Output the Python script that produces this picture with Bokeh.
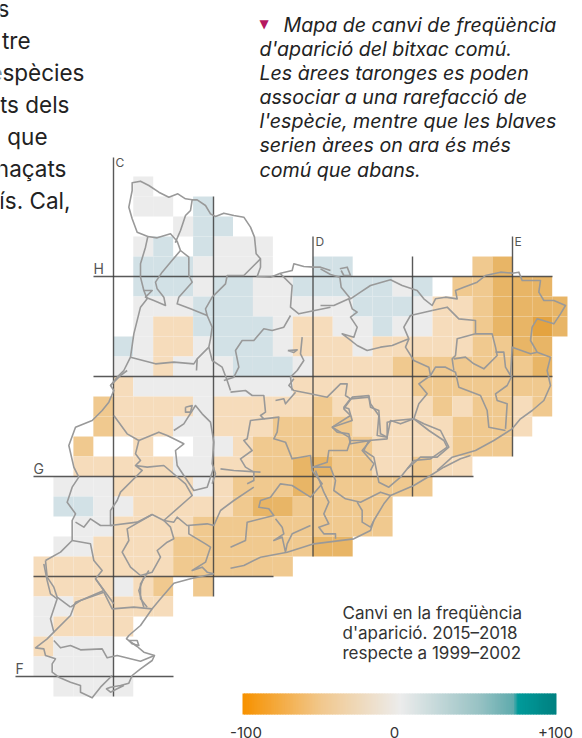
from bokeh.plotting import figure
from bokeh.embed import file_html
from bokeh.resources import INLINE
from bokeh.core.properties import value

# ---- data -------------------------------------------------------------
GRID_ROWS = [
    ".....g",
    ".....gg.b",
    ".......gbb",
    ".....gb.bggg",
    ".....bbbgggg..bb......md",
    ".....bbbgbbggbbbbbgb.mmddd",
    ".....gggbbbgggggbbbgllmdddd",
    ".....gllbbbbgllggbggllmddxd",
    "....bgllgbbbglllglllllmmdd",
    "....gglgggbbbgllllmmmmmmmd",
    "....lggggggggllllllmmmmmmm",
    "...mllllglllllmlllllmlmmlm",
    "...mlllgglllmmmmlllllmmml",
    "..m..l..gglmmmmmmllllmmm",
    "..lllllggllmmddmmllmll",
    ".gggllllglmmmdmmmmmm",
    ".bbgglllllmddmmmmm",
    "..ggllllmmmmmmmmmm",
    ".ggllllmmmmmmmdd",
    "lllllllmmmmmm",
    "llllglm.m",
    "gglllll",
    "gllll",
    "lggg",
    "gggg",
    ".gggg",
]
CLASS_VALUES = {"g": 0, "b": 20, "l": -20, "m": -40, "d": -60, "x": -78}
VALUE_COLORS = {0: "#ececec", 20: "#d2e1e6", -20: "#f6dcbb", -40: "#f0c98f", -60: "#e8b566", -78: "#e4a340"}

BODY_LINES = ["s", "tre", "espècies", "ts dels", "que", "naçats", "ís. Cal,"]
NOTE_LINES = ["Mapa de canvi de freqüència", "d'aparició del bitxac comú.", "Les àrees taronges es poden",
              "associar a una rarefacció de", "l'espècie, mentre que les blaves", "serien àrees on ara és més",
              "comú que abans."]
LEGEND_LINES = ["Canvi en la freqüència", "d'aparició. 2015–2018", "respecte a 1999–2002"]
LEGEND_TICKS = ["-100", "0", "+100"]
UTM_LABELS = ["C", "D", "E", "F", "G", "H"]
GRADIENT_STOPS = [(-100, "#f79200"), (-50, "#f1c88e"), (0, "#ececec"), (50, "#98c2c4"), (72, "#5fabad"), (75, "#009a9a"), (100, "#008080")]

UTM_LINES = [(93, 276, 552, 276), (93, 376, 552, 376), (33, 476, 473, 476), (33, 576, 273, 576), (15, 676, 173, 676),
             (113, 157, 113, 696), (213, 196, 213, 596), (312.5, 236, 312.5, 556), (412, 256, 412, 496), (512, 236, 512, 456)]

BOUNDARIES = [
 (90,150,[172,258,140,245,125,205,115,170,125,120,125,97,150,92,175,105,205,125,235,140,262,130,285,145,305,148,320,148,345,165,360,190,375,198,400,188,430,195,460,200,480,230,492,260,495,290,497,310,510,325,510,350,500,378,540,380,570,368,605,360,610,340,640,348,670,350,690,350,720,360]),
 (320,230,[0,115,30,132,58,140,62,170,90,205,120,185,150,165,210,148,245,165,290,180,310,205,335,225,345,205,375,200,410,205,405,180,430,170,470,155,495,135,540,125,575,128,595,125,605,150,660,150,655,185,670,210,700,210,735,225,720,250,700,280,650,265,635,290,630,330,650,365,690,380,680,420,690,465,670,510,635,540,600,565,575,595,520,630,465,660,395,680,350,720]),
 (320,230,[58,115,80,110,90,135,70,135,62,120]),
 (230,370,[720,255,690,265,640,290,600,315,550,345,480,375,460,400,430,450,420,480,370,505,250,520,170,545,90,560,40,585,0,593]),
 (0,560,[640,40,570,55,520,68,480,115,455,145,420,195,385,225,378,235,410,258,430,275,462,285,455,300,420,325,395,345,385,368,360,375,330,380,318,385,330,395,350,385,370,375]),
 (0,560,[385,240,410,240,415,255,395,250,385,240]),
 (0,560,[335,345,300,380,275,412,240,395,240,375,210,365,175,350,155,335,155,310,165,295,135,285,130,265,105,262,140,235,160,215,150,175,170,115,150,100,140,60,130,10]),
 (20,370,[75,570,120,545,155,510,155,450,165,430,140,395,155,350,175,320,160,290,145,225,165,170,215,150,245,120,265,95,280,60,270,45,300,15,320,0]),
 (20,370,[75,570,80,620,100,650,110,680,150,710]),
 (90,150,[60,705,80,680,100,660,120,620,130,550,150,470,170,445,160,420,150,380,150,340,165,290,172,258]),
 (90,150,[172,258,200,262,240,250,260,272,255,275,270,240,285,195,300,180,305,148]),
 (90,150,[260,272,270,300,295,320,295,375,305,395,265,440,260,460,300,475,350,495,345,475,365,440,405,400,410,375,460,375,490,345,510,325]),
 (90,150,[270,300,240,335,215,365,195,395,200,415,220,440,225,465,190,450,165,440,185,420,160,420]),
 (90,150,[350,495,365,530,360,565,355,590,365,630,395,650,410,690,420,720]),
 (90,150,[355,590,320,625,310,640,250,635,195,640,120,620]),
 (90,150,[320,625,318,660]),
 (90,150,[570,370,605,405,600,470,625,490,720,470]),
 (90,150,[600,495,580,530,545,540,520,535,490,570,455,570,435,600,445,650,430,680,400,690]),
 (90,150,[635,560,630,610,640,630,620,660,600,680,605,720]),
 (90,150,[592,600,620,598,610,606,592,600]),
 (320,230,[0,225,40,225,85,205,95,235,110,245,90,260,110,290,100,320,65,310,85,325,110,345,140,360,180,350,215,345,265,325,250,290,270,255,335,240]),
 (320,230,[265,325,255,350,280,390,325,410,330,435,295,460,320,490,295,520,280,565,240,580,210,570,200,620,170,615,175,555,150,520,145,495,95,500,70,535,90,555,35,590,85,620,90,640,150,630,125,660,160,700,150,720]),
 (320,230,[330,435,345,410,375,410,405,425,415,470,480,495,500,540,505,590,555,600]),
 (320,230,[335,240,380,230,415,265,465,270,465,310,410,325,405,375,395,385,400,420]),
 (320,230,[465,310,515,310,525,350,530,375,490,415,460,400,435,380,400,385]),
 (320,230,[525,365,550,365,555,410,570,435,575,350,630,370,650,365]),
 (320,230,[575,435,560,465,525,490,530,510,560,520,555,595]),
 (320,230,[280,565,310,580,360,600,385,650,350,680,300,680,260,715]),
 (230,370,[0,65,45,60,65,75,100,75,105,125,90,135,100,145,60,150,50,205,40,210,65,240,30,265,45,290,70,305,70,330,50,340]),
 (230,370,[190,25,175,45,190,60,240,70,290,80,330,40,350,40,345,75,360,85]),
 (230,370,[135,90,160,85,165,100,195,65]),
 (230,370,[100,145,145,140,140,185,130,205,165,215,185,265,240,255,245,300,275,340,240,380,185,345,150,340,120,380,90,390,85,410,115,415,130,435,50,455,45,510,0,530]),
 (230,370,[305,170,365,150,355,115,340,110,360,85,415,80,420,110,445,120,450,190,470,200]),
 (230,370,[305,170,320,185,355,190,360,210,415,210,470,205,470,155,495,150,550,145,595,180,640,210,650,230,600,265,550,270,510,320,475,350,445,335,430,260,400,240,415,210]),
 (230,370,[360,210,350,240,295,240,290,275,245,290,300,290,315,330,310,360,345,385,390,395,450,365,480,375]),
 (230,370,[380,395,395,420,395,455,420,470,430,450]),
 (230,370,[255,300,280,365,295,395,280,430,295,460,265,470,280,490,315,490,315,505]),
 (230,370,[240,465,185,490,170,520,165,545,155,500,130,510,160,490,155,470,135,445]),
 (20,370,[600,295,640,300,720,305]),
 (20,370,[280,135,320,190,355,210,345,250,360,270,345,285,365,300,300,365,290,390,270,420,270,465,350,455,395,432,430,450,515,375,495,340,430,285,380,290,345,285]),
 (20,370,[355,210,415,185,440,195,460,205,490,220,465,240,470,285,520,360,560,350,580,290]),
 (20,370,[495,110,515,105,510,125,495,125,495,110]),
 (20,370,[460,180,490,160,525,105,545,130,570,155,580,215,575,280,585,310,575,340]),
 (20,370,[430,450,460,455,470,440,500,465,560,460,580,465,600,420,640,390,700,350]),
 (20,370,[505,465,505,490,555,520,570,530,555,575,515,600,545,590,560,605,580,610]),
 (20,370,[395,432,320,475,325,510,305,545,330,590,360,615,395,605,420,560,410,540,440,515,460,505,450,470,430,450]),
 (20,370,[385,600,360,640,360,685,380,710]),
 (20,370,[275,465,240,465,210,445,190,470,165,455]),
 (20,370,[155,510,210,520,220,570,245,600,225,625,280,700]),
 (20,370,[225,625,250,660,180,690,150,710]),
 (0,560,[310,95,335,145,400,140,455,145]),
 (0,560,[310,95,225,125,210,165,160,215]),
 (0,560,[430,50,415,90,430,140]),
 (0,560,[160,240,180,262,210,255,240,268,305,265,320,292,350,285,420,302,462,285]),
]

X0, DX, Y0, DY = 33.0, 19.95, 176.0, 20.0
FONT = value("Inter")

def hex_rgb(c):
    return tuple(int(c[i:i + 2], 16) for i in (1, 3, 5))

def gradient(v):
    for (a, ca), (b, cb) in zip(GRADIENT_STOPS, GRADIENT_STOPS[1:]):
        if a <= v <= b:
            t = (v - a) / (b - a)
            ra, rb = hex_rgb(ca), hex_rgb(cb)
            return "#%02x%02x%02x" % tuple(round(p + (q - p) * t) for p, q in zip(ra, rb))
    return GRADIENT_STOPS[-1][1]

p = figure(width=582, height=738, x_range=(0, 582), y_range=(738, 0), output_backend="svg",
           toolbar_location=None, min_border=0, outline_line_color=None, margin=(0, 0, 0, 0))
p.axis.visible = False
p.grid.visible = False
p.background_fill_color = None
p.border_fill_color = None

lefts, rights, tops, bottoms, colors = [], [], [], [], []
for j, row in enumerate(GRID_ROWS):
    for i, ch in enumerate(row):
        if ch == ".":
            continue
        lefts.append(X0 + i * DX)
        rights.append(min(X0 + (i + 1) * DX, 567))
        tops.append(Y0 + j * DY)
        bottoms.append(Y0 + (j + 1) * DY)
        colors.append(VALUE_COLORS[CLASS_VALUES[ch]])
p.quad(left=lefts, right=rights, top=tops, bottom=bottoms, fill_color=colors, line_color="white", line_alpha=0.08, line_width=0.6)

p.segment(x0=[l[0] for l in UTM_LINES], y0=[l[1] for l in UTM_LINES], x1=[l[2] for l in UTM_LINES], y1=[l[3] for l in UTM_LINES],
          line_color="#3c3c3c", line_width=1.4, line_alpha=0.85)

xs = [[ox + v / 3 for v in pts[0::2]] for ox, oy, pts in BOUNDARIES]
ys = [[oy + v / 3 for v in pts[1::2]] for ox, oy, pts in BOUNDARIES]
p.multi_line(xs=xs, ys=ys, line_color="#999999", line_width=1.6, line_join="round")

p.text(x=[115, 315, 514], y=[162, 241, 241], text=UTM_LABELS[:3], text_font=FONT,
       text_font_size="12px", text_color="#555555", text_baseline="alphabetic")
p.text(x=[15, 33, 93], y=[668, 468, 268], text=UTM_LABELS[3:], text_font=FONT,
       text_font_size="14px", text_color="#555555", text_baseline="alphabetic")

body_right = [9, 30, 84, 69, 47, 66, 70]
body_base = [8, 40, 72, 104, 136, 168, 200]
p.text(x=body_right, y=body_base, text=BODY_LINES, text_font=FONT, text_font_size="22.5px", text_color="#222222",
       text_align="right", text_baseline="alphabetic")

note_base = [24, 48, 72, 96, 120, 144, 169]
note_x = [283, 259, 259, 259, 259, 259, 259]
p.text(x=note_x, y=note_base, text=NOTE_LINES, text_font=FONT, text_font_size="19.6px", text_font_style="italic",
       text_color="#222222", text_baseline="alphabetic")
p.text(x=[259], y=[23], text=["▼"], text_font=value("DejaVu Sans"), text_font_size="12px", text_color="#b5175f", text_baseline="alphabetic")

p.text(x=[342] * 3, y=[612, 632, 652], text=LEGEND_LINES, text_font=FONT, text_font_size="17px", text_color="#333333",
       text_baseline="alphabetic")
bar_values = list(range(-100, 100, 1))
BAR_L, BAR_R = 242.0, 556.0
sx = (BAR_R - BAR_L) / 200
p.quad(left=[BAR_L + (v + 100) * sx for v in bar_values],
       right=[min(BAR_L + (v + 101) * sx + 1, BAR_R) for v in bar_values],
       top=[693] * 200, bottom=[714] * 200, fill_color=[gradient(v) for v in bar_values], line_color=None)
p.text(x=[245.5, 394, 555], y=[732] * 3, text=LEGEND_TICKS, text_font=FONT, text_font_size="15px", text_color="#333333",
       text_align="center", text_baseline="alphabetic")

open("out.html", "w").write(file_html(p, INLINE))
